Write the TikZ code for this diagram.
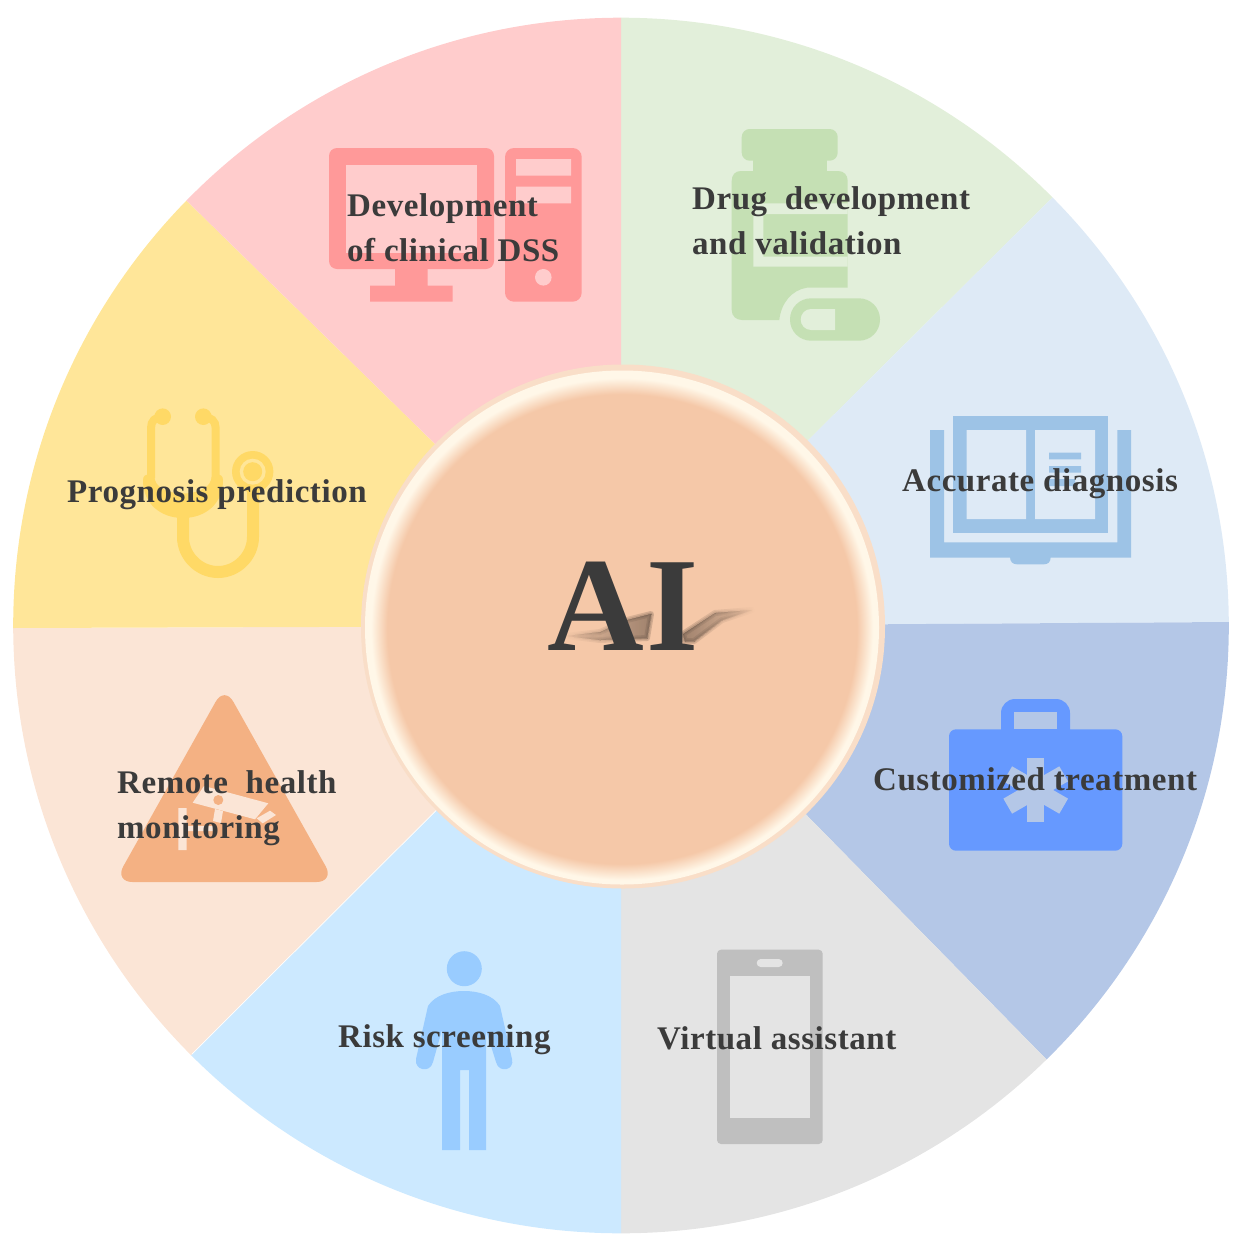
\documentclass[tikz,border=0pt]{standalone}
\usepackage{fontspec}
\setmainfont[LetterSpace=1.7]{Liberation Serif}
\usetikzlibrary{calc,fadings}
\definecolor{wpink}{HTML}{FFCCCC}
\definecolor{wgreen}{HTML}{E2EFDA}
\definecolor{wsky}{HTML}{DEEAF6}
\definecolor{wblue}{HTML}{B4C7E7}
\definecolor{wgray}{HTML}{E4E4E4}
\definecolor{wcyan}{HTML}{CCE9FF}
\definecolor{wpeach}{HTML}{FBE5D6}
\definecolor{wyellow}{HTML}{FFE699}
\definecolor{ipink}{HTML}{FF9999}
\definecolor{igreen}{HTML}{C5E0B4}
\definecolor{isky}{HTML}{9DC3E6}
\definecolor{iblue}{HTML}{6699FF}
\definecolor{igray}{HTML}{BFBFBF}
\definecolor{icyan}{HTML}{99CCFF}
\definecolor{ipeach}{HTML}{F4B183}
\definecolor{iyellow}{HTML}{FFD966}
\definecolor{hubface}{HTML}{F5C8A8}
\definecolor{hubrim}{HTML}{F9DEC8}
\definecolor{hubglow}{HTML}{FFF7E8}
\definecolor{ink}{HTML}{3B3B3B}
\pgfdeclareradialshading{hubshade}{\pgfpoint{0bp}{0bp}}{color(0bp)=(hubface); color(23.2bp)=(hubface); color(24.8bp)=(hubglow); color(50bp)=(hubglow)}
\tikzset{lbl/.style={anchor=base west, inner sep=0pt, align=left, text=ink, font=\fontsize{33}{44.5}\selectfont\bfseries}}
\tikzset{smear/.style={fill=black!55!hubface, draw=black!55!hubface, line join=round, opacity=.28}}
\begin{document}
\begin{tikzpicture}[x = 1pt, y = -1pt]
\useasboundingbox (0, 0) rectangle (1242, 1242);
\coordinate (c) at (621, 626);
\coordinate (t) at (621, 18);
\coordinate (ur) at (1052, 198);
\coordinate (r) at (1229, 622);
\coordinate (lr) at (1047, 1060);
\coordinate (b) at (621, 1233);
\coordinate (ll) at (192, 1054);
\coordinate (l) at (13, 628);
\coordinate (ul) at (188, 202);
% wheel
\begin{scope}
\clip (621, 625.5) circle (607.8);
\foreach \p/\q/\col in {t/ur/wgreen, ur/r/wsky, r/lr/wblue, lr/b/wgray, b/ll/wcyan, ll/l/wpeach, l/ul/wyellow, ul/t/wpink}
  \fill[\col] (c) -- ($(c)!1.5!(\p)$) -- ($(c)!1.5!(\q)$) -- cycle;
\draw[white, line width=.7pt] (c) -- (ll);
\end{scope}
% computer
\fill[ipink, rounded corners=8pt] (329, 148) rectangle (494, 269);
\fill[wpink] (345.7, 165) rectangle (477, 252.7);
\fill[ipink] (395, 269) rectangle (427.7, 286) (370, 285.7) rectangle (452.7, 301.7);
\fill[ipink, rounded corners=9pt] (505, 148) rectangle (581.7, 301.7);
\fill[wpink] (516, 159) rectangle (571, 175.7) (516, 186.7) rectangle (571, 203.3);
\fill[wpink] (543.3, 277.3) circle (8.3);
% bottle
\fill[igreen, rounded corners=8pt] (741.7, 129) rectangle (837.7, 160.7);
\fill[igreen] (753, 160) rectangle (827.3, 172);
\fill[igreen] (741, 171) -- (838, 171) .. controls (844, 171) and (847.7, 175) .. (847.7, 181) -- (847.7, 287.7) -- (806.7, 287.7) .. controls (792, 290) and (781, 303) .. (779.3, 320) -- (742, 320) .. controls (736, 320) and (731.7, 316) .. (731.7, 310) -- (731.7, 181) .. controls (731.7, 175) and (735, 171) .. (741, 171) -- cycle;
\fill[wgreen] (753.3, 203.3) -- (847.7, 203.3) -- (847.7, 214) -- (763.3, 214) -- (763.3, 256.7) -- (847.7, 256.7) -- (847.7, 266.7) -- (753.3, 266.7) -- cycle;
\fill[igreen, rounded corners=21pt] (790, 298.3) rectangle (880, 340.7);
\fill[wgreen] (835, 309) -- (811, 309) .. controls (805, 309) and (800.7, 314) .. (800.7, 319.5) .. controls (800.7, 325) and (805, 330) .. (811, 330) -- (835, 330) -- cycle;
% book
\fill[isky] (953.3, 416) rectangle (1108.3, 532.7);
\fill[wsky] (966.7, 430) rectangle (1026, 519) (1035, 430) rectangle (1095, 519);
\fill[isky] (1049, 452.7) rectangle (1081, 459.3) (1049, 466) rectangle (1081, 472.7) (1049, 479) rectangle (1075, 486);
\fill[isky] (930, 430) -- (944, 430) -- (944, 542.3) -- (1117.3, 542.3) -- (1117.3, 430) -- (1131, 430) -- (1131, 557.7) -- (930, 557.7) -- cycle;
\fill[isky] (1010, 557) -- (1050.7, 557) .. controls (1050.7, 562) and (1048, 564.3) .. (1044, 564.3) -- (1017, 564.3) .. controls (1013, 564.3) and (1010, 562) .. (1010, 557) -- cycle;
% kit
\fill[iblue, rounded corners=14pt] (1001, 699) rectangle (1070, 745);
\fill[wblue] (1014, 712) rectangle (1057.3, 729.3);
\fill[iblue, rounded corners=7pt] (949, 729.3) rectangle (1122.3, 850.7);
\foreach \ang in {0, 60, 120}
  \fill[wblue, rotate around={\ang:(1035.7, 790)}] (1027, 757.7) rectangle (1044.4, 822.3);
% phone
\fill[igray, rounded corners=4pt] (717, 949.7) rectangle (822.7, 1144);
\fill[wgray] (730, 976) rectangle (810, 1117.7);
\fill[wgray, rounded corners=4pt] (756.7, 959) rectangle (782.7, 967);
% person
\fill[icyan] (464.3, 968.7) circle (17.5);
\fill[icyan] (464, 991) .. controls (450, 991) and (435, 995) .. (428, 1006) -- (416, 1059) .. controls (414, 1070) and (430, 1074) .. (433, 1062) -- (442, 1030) -- (442, 1150) -- (460, 1150) -- (460, 1070) -- (469, 1070) -- (469, 1150) -- (486, 1150) -- (486, 1030) -- (496, 1062) .. controls (499, 1074) and (515, 1070) .. (512, 1059) -- (500, 1006) .. controls (493, 995) and (478, 991) .. (464, 991) -- cycle;
% triangle
\fill[ipeach, rounded corners=18pt] (224.5, 686) -- (334.5, 882) -- (114.5, 882) -- cycle;
\fill[wpeach] (192.7, 802.7) -- (204, 786) -- (268.3, 803.3) -- (255, 819.3) -- cycle;
\fill[wpeach] (215, 809) -- (223, 811) -- (221, 823) -- (213, 821) -- cycle;
\fill[wpeach] (256.7, 818.3) -- (270, 810.7) -- (276, 815) -- (262.7, 823.3) -- cycle;
\fill[wpeach] (178.3, 808) rectangle (186.7, 850) (186, 826) rectangle (215, 831);
\fill[ipeach] (218.3, 800) circle (5);
% stethoscope
\draw[iyellow, line width=8pt] (162.7, 416.7) .. controls (155, 417) and (151, 421) .. (151, 428) -- (151, 478);
\draw[iyellow, line width=8pt] (203.3, 416.7) .. controls (211, 417) and (215.7, 421) .. (215.7, 428) -- (215.7, 478);
\fill[iyellow] (162.7, 416.7) circle (8.3) (203.3, 416.7) circle (8.3);
\fill[iyellow] (143, 480) .. controls (143, 472) and (155, 472) .. (155, 480) .. controls (160, 498) and (206, 498) .. (211, 480) .. controls (211, 472) and (223, 472) .. (223, 480) .. controls (223, 504) and (205, 518) .. (183, 518) .. controls (161, 518) and (143, 504) .. (143, 480) -- cycle;
\draw[iyellow, line width=12pt] (183, 512) -- (183, 537) .. controls (183, 556) and (199, 572) .. (218, 572) .. controls (237, 572) and (253, 556) .. (253, 537) -- (253, 485);
\fill[iyellow] (252.7, 471.7) circle (20.7);
\fill[wyellow] (252.7, 471.7) circle (13);
\fill[iyellow] (252.7, 471.7) circle (9.5);
% hub
\fill[hubrim] (623, 626.5) circle (262);
\fill[hubglow] (622, 627.5) circle (257);
\shade[shading=hubshade] (622, 629) circle (253);
\foreach \wd in {0, 3, 6} {
  \path[smear, line width=\wd pt, path fading=west] (566, 636) -- (600, 632) -- (627, 620) -- (651, 614) -- (647, 638) -- (600, 640) -- cycle;
  \path[smear, line width=\wd pt, path fading=east] (683, 634) -- (715, 613) -- (752, 610) -- (722, 620) -- (694, 641) -- (685, 641) -- cycle;
}
\node[lbl, font=\fontsize{134}{134}\selectfont\bfseries] (ai) at (547, 650.7) {AI};
% labels
\node[lbl] (dss) at (347, 261) {Development\\of clinical DSS};
\node[lbl] (drug) at (692, 254) {Drug\ \ development\\and validation};
\node[lbl] (diag) at (902, 491) {Accurate diagnosis};
\node[lbl] (treat) at (873, 790) {Customized treatment};
\node[lbl] (virt) at (657, 1049) {Virtual assistant};
\node[lbl] (risk) at (338, 1047) {Risk screening};
\node[lbl] (rem) at (117, 838) {Remote\ \ health\\monitoring};
\node[lbl] (prog) at (67, 502) {Prognosis prediction};
\end{tikzpicture}
\end{document}
